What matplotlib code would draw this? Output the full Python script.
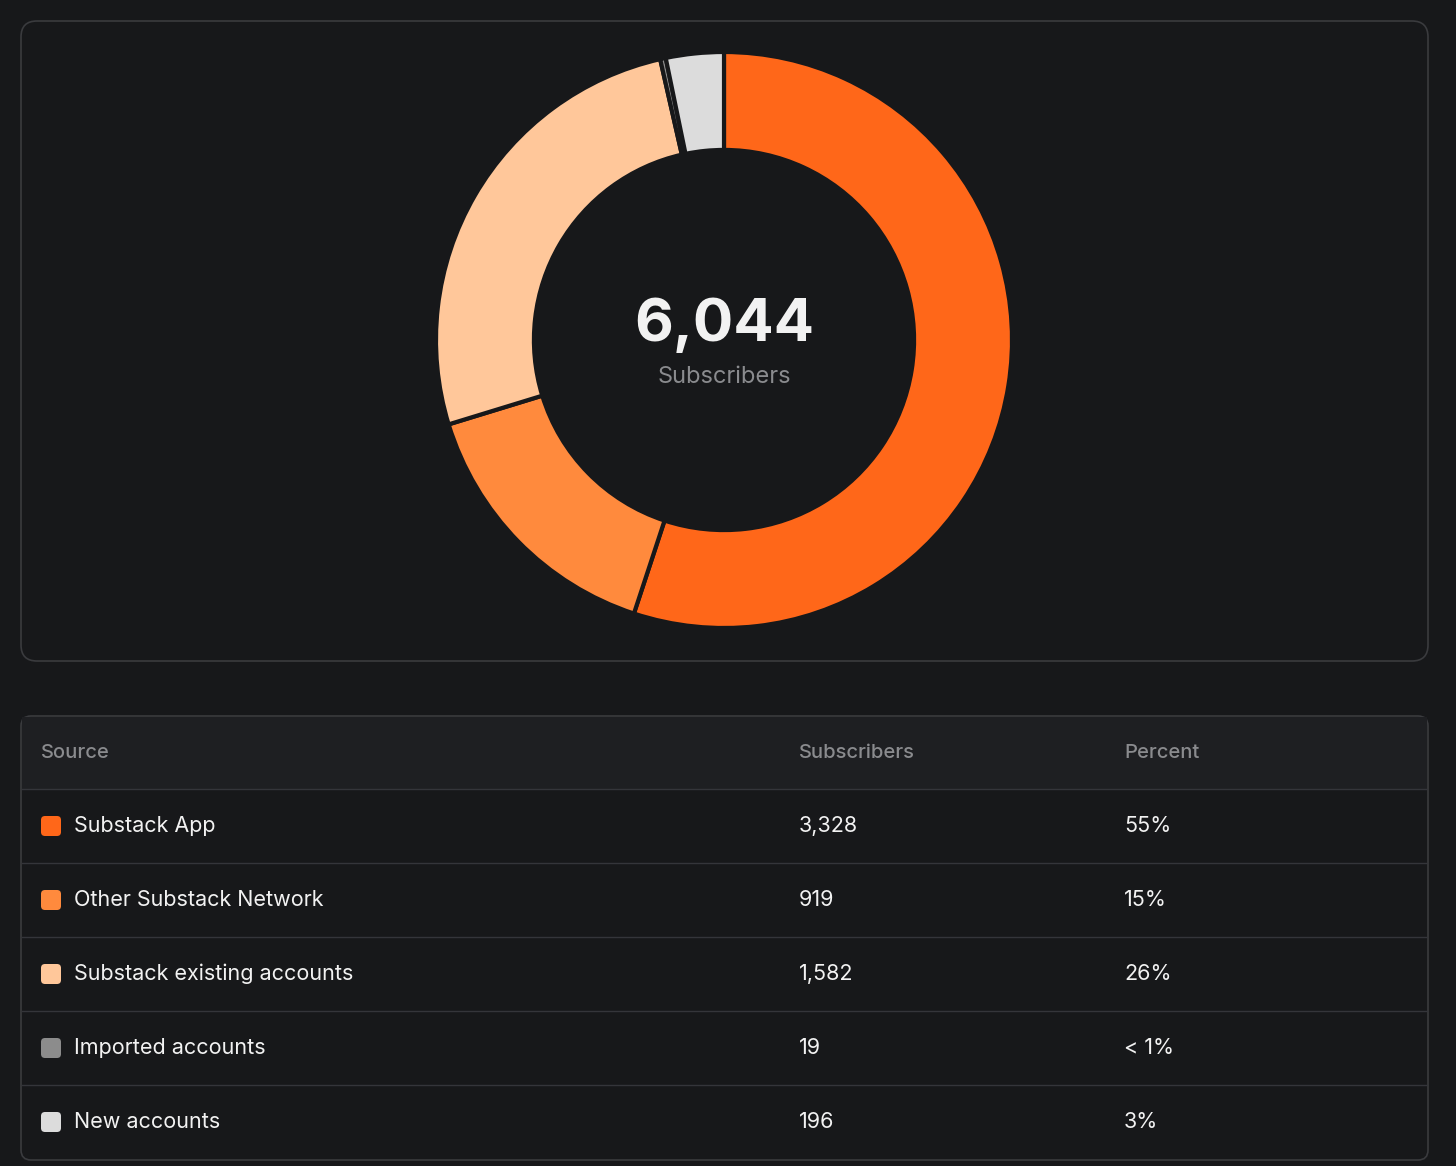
import matplotlib.pyplot as plt
from matplotlib.patches import FancyBboxPatch, Rectangle

sources = ["Substack App", "Other Substack Network", "Substack existing accounts",
           "Imported accounts", "New accounts"]
subscribers = [3328, 919, 1582, 19, 196]
percent_labels = ["55%", "15%", "26%", "< 1%", "3%"]
colors = ["#ff6719", "#ff8a3d", "#ffc79a", "#8c8c8c", "#dcdcdc"]
total_label = "6,044"

bg = "#17181a"
W, H = 1456, 1166
plt.rcParams['font.family'] = ['Inter', 'DejaVu Sans']
fig = plt.figure(figsize=(W / 100, H / 100), dpi=100, facecolor=bg)

# background axes in pixel coordinates
base = fig.add_axes([0, 0, 1, 1])
base.set_xlim(0, W)
base.set_ylim(H, 0)
base.axis("off")
base.set_facecolor(bg)

# chart card
base.add_patch(FancyBboxPatch((21, 21), 1407, 640, boxstyle="round,pad=0,rounding_size=16",
                              fc=bg, ec="#3a3b3e", lw=1.2))

# table card
base.add_patch(FancyBboxPatch((21, 716), 1407, 444, boxstyle="round,pad=0,rounding_size=10",
                              fc=bg, ec="#3a3b3e", lw=1.2))
base.add_patch(Rectangle((22, 717), 1405, 72, fc="#1e1f22", ec="none"))
for y in [789, 863, 937, 1011, 1085]:
    base.plot([22, 1427], [y, y], color="#34353a", lw=1)

hdr = dict(color="#8a8b8e", fontsize=14.5, va="center", fontweight="medium")
base.text(41, 753, "Source", **hdr)
base.text(799, 753, "Subscribers", **hdr)
base.text(1124, 753, "Percent", **hdr)

row = dict(color="#f2f2f2", fontsize=15.5, va="center")
for i, (s, n, p, c) in enumerate(zip(sources, subscribers, percent_labels, colors)):
    y = 826 + 74 * i
    base.add_patch(FancyBboxPatch((41, y - 10), 20, 20, boxstyle="round,pad=0,rounding_size=4",
                                  fc=c, ec="none"))
    base.text(74, y, s, **row)
    base.text(799, y, f"{n:,}", **row)
    base.text(1124, y, p, **row)

# donut
cx, cy, r = 724, 340, 288
ax = fig.add_axes([(cx - r) / W, 1 - (cy + r) / H, 2 * r / W, 2 * r / H])
ax.pie(subscribers, colors=colors, startangle=90, counterclock=False,
       wedgeprops=dict(width=0.34, edgecolor=bg, linewidth=3))
ax.set_xlim(-1, 1)
ax.set_ylim(-1, 1)
ax.set_aspect("equal")
ax.text(0, 0.05, total_label, ha="center", va="center", color="#f2f2f2",
        fontsize=43, fontweight="bold")
ax.text(0, -0.13, "Subscribers", ha="center", va="center", color="#8a8b8e", fontsize=17)

fig.savefig("out.png", dpi=100, facecolor=bg)
